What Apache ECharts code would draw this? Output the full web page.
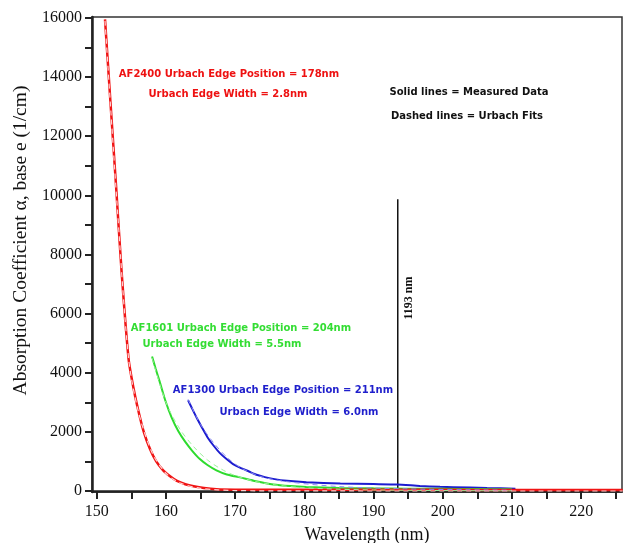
<!DOCTYPE html>
<html>
<head>
<meta charset="utf-8">
<script src="https://cdn.jsdelivr.net/npm/echarts@6/dist/echarts.min.js"></script>
<style>
  html, body { margin: 0; padding: 0; background: #fff; }
  #chart { width: 623px; height: 543px; }
</style>
</head>
<body>
<div id="chart"></div>
<script>
// tick labels
const xTicks = [150, 155, 160, 165, 170, 175, 180, 185, 190, 195, 200, 205, 210, 215, 220, 225]
const xLabels = [150, 160, 170, 180, 190, 200, 210, 220]
const yTicks = [0, 1000, 2000, 3000, 4000, 5000, 6000, 7000, 8000, 9000, 10000, 11000, 12000, 13000, 14000, 15000, 16000]
const yLabels = [0, 2000, 4000, 6000, 8000, 10000, 12000, 14000, 16000]

// AF2400 measured (red)
const redWl = [151.2, 152.0, 152.8, 153.6, 154.6, 155.3, 156.0, 156.8, 157.7, 158.6, 159.6, 160.6, 161.6, 162.8, 164.0, 165.5, 167.3, 170, 175, 180, 190, 200, 210, 220, 226]
const redAbs = [15950, 13100, 10300, 7400, 4480, 3500, 2730, 2000, 1420, 1000, 700, 500, 340, 230, 160, 100, 60, 45, 40, 40, 38, 38, 36, 35, 35]
// AF2400 Urbach fit
const redFitWl = [151.2, 153.0, 154.6, 156.0, 158.0, 160.0, 162.0, 165.0, 170, 180, 200, 226]
const redFitAbs = [15900, 9500, 4500, 2700, 1300, 600, 280, 90, 15, 3, 0, 0]

// AF1601 measured (green)
const greenWl = [158.0, 158.5, 159.1, 159.9, 160.8, 161.8, 162.8, 163.8, 164.9, 166.0, 167.3, 168.8, 170.7, 173.0, 175.5, 178.0, 180.3, 185, 190, 195, 200, 205, 210]
const greenAbs = [4550, 4150, 3700, 3070, 2500, 2020, 1660, 1360, 1080, 880, 700, 560, 460, 330, 220, 165, 135, 105, 90, 80, 75, 65, 55]
// AF1601 Urbach fit
const greenFitWl = [158.0, 160.0, 162.0, 164.0, 166.0, 168.0, 170.0, 173.0, 176.0, 180.0, 185.0, 190.0, 200.0, 210.0]
const greenFitAbs = [4500, 3000, 2100, 1500, 1050, 740, 520, 320, 200, 110, 60, 35, 15, 6]

// AF1300 measured (blue)
const blueWl = [163.2, 163.8, 164.5, 165.2, 166.0, 166.9, 167.8, 168.8, 169.7, 170.7, 172.0, 173.1, 174.3, 175.5, 177.5, 180.3, 185.2, 190, 193.4, 196.7, 199.6, 201.5, 206.4, 210.5]
const blueAbs = [3070, 2780, 2450, 2150, 1820, 1530, 1280, 1070, 910, 790, 660, 550, 470, 410, 345, 295, 255, 235, 220, 170, 140, 130, 100, 80]
// AF1300 Urbach fit
const blueFitWl = [163.2, 165.0, 167.0, 169.0, 171.0, 174.0, 178.0, 185.0, 195.0, 210.0]
const blueFitAbs = [3100, 2250, 1600, 1100, 760, 470, 300, 150, 70, 25]

// 1193 nm marker
const markerWl = [193.5, 193.5]
const markerAbs = [0, 9870]

const zip = (a, b) => a.map((v, i) => [v, b[i]])

const chart = echarts.init(document.getElementById('chart'))

const serif = '"Liberation Serif", "Times New Roman", serif'
const note = 'bold 10px "DejaVu Sans", sans-serif'

function lineSeries(name, wl, vals, color, width, dashed, z) {
  return {
    name: name,
    type: 'line',
    data: zip(wl, vals),
    showSymbol: false,
    smooth: dashed ? 0.3 : 0.2,
    silent: true,
    z: z,
    lineStyle: {
      color: color,
      width: width,
      type: dashed ? [5, 4] : 'solid'
    }
  }
}

chart.setOption({
  animation: false,
  grid: {
    left: 92,
    top: 17,
    right: 1,
    bottom: 51,
    outerBoundsMode: 'none',
    containLabel: false,
    show: true,
    borderColor: '#333',
    borderWidth: 1.5
  },
  xAxis: {
    type: 'value',
    min: 149.32,
    max: 225.9,
    name: 'Wavelength (nm)',
    nameLocation: 'middle',
    nameGap: 34,
    nameTextStyle: { fontFamily: serif, fontSize: 18, color: '#111', padding: [0, 0, 0, 20] },
    axisLine: { lineStyle: { color: '#222', width: 2.5 } },
    axisTick: { customValues: xTicks, length: 8, lineStyle: { color: '#222', width: 2 } },
    axisLabel: {
      customValues: xLabels,
      fontFamily: serif,
      fontSize: 16,
      color: '#111',
      margin: 12,
      formatter: v => String(v)
    },
    splitLine: { show: false }
  },
  yAxis: {
    type: 'value',
    min: -34,
    max: 16030,
    name: 'Absorption Coefficient α, base e (1/cm)',
    nameLocation: 'middle',
    nameGap: 61,
    nameTextStyle: { fontFamily: serif, fontSize: 19.5, color: '#111', padding: [0, 0, 0, 28] },
    axisLine: { lineStyle: { color: '#222', width: 2.5 } },
    axisTick: { customValues: yTicks, length: 7, lineStyle: { color: '#222', width: 2 } },
    axisLabel: {
      customValues: yLabels,
      fontFamily: serif,
      fontSize: 16,
      color: '#111',
      margin: 10,
      formatter: v => String(v)
    },
    splitLine: { show: false }
  },
  series: [
    lineSeries('AF1300', blueWl, blueAbs, '#1c1ccf', 2, false, 2),
    lineSeries('AF1601', greenWl, greenAbs, '#2edb2e', 2, false, 3),
    lineSeries('AF2400', redWl, redAbs, '#f01414', 2.5, false, 4),
    lineSeries('AF1300 fit', blueFitWl, blueFitAbs, '#8a8af0', 1, true, 5),
    lineSeries('AF1601 fit', greenFitWl, greenFitAbs, '#9cf09c', 1, true, 5),
    lineSeries('AF2400 fit', redFitWl, redFitAbs, '#ffd0d0', 1.2, true, 6),
    lineSeries('1193 nm', markerWl, markerAbs, '#111', 1.5, false, 1)
  ],
  graphic: [
    { type: 'text', x: 229, y: 74, style: { text: 'AF2400 Urbach Edge Position = 178nm', font: note, fill: '#ee1111', align: 'center', verticalAlign: 'middle' } },
    { type: 'text', x: 228, y: 94, style: { text: 'Urbach Edge Width = 2.8nm', font: note, fill: '#ee1111', align: 'center', verticalAlign: 'middle' } },
    { type: 'text', x: 469, y: 92, style: { text: 'Solid lines = Measured Data', font: note, fill: '#111', align: 'center', verticalAlign: 'middle' } },
    { type: 'text', x: 467, y: 116, style: { text: 'Dashed lines = Urbach Fits', font: note, fill: '#111', align: 'center', verticalAlign: 'middle' } },
    { type: 'text', x: 241, y: 328, style: { text: 'AF1601 Urbach Edge Position = 204nm', font: note, fill: '#33dd33', align: 'center', verticalAlign: 'middle' } },
    { type: 'text', x: 222, y: 344, style: { text: 'Urbach Edge Width = 5.5nm', font: note, fill: '#33dd33', align: 'center', verticalAlign: 'middle' } },
    { type: 'text', x: 283, y: 390, style: { text: 'AF1300 Urbach Edge Position = 211nm', font: note, fill: '#1f1fcc', align: 'center', verticalAlign: 'middle' } },
    { type: 'text', x: 299, y: 412, style: { text: 'Urbach Edge Width = 6.0nm', font: note, fill: '#1f1fcc', align: 'center', verticalAlign: 'middle' } },
    { type: 'text', x: 409, y: 298, rotation: Math.PI / 2, style: { text: '1193 nm', font: 'bold 12px "Liberation Serif", serif', fill: '#111', align: 'center', verticalAlign: 'middle' } }
  ]
})
</script>
</body>
</html>
